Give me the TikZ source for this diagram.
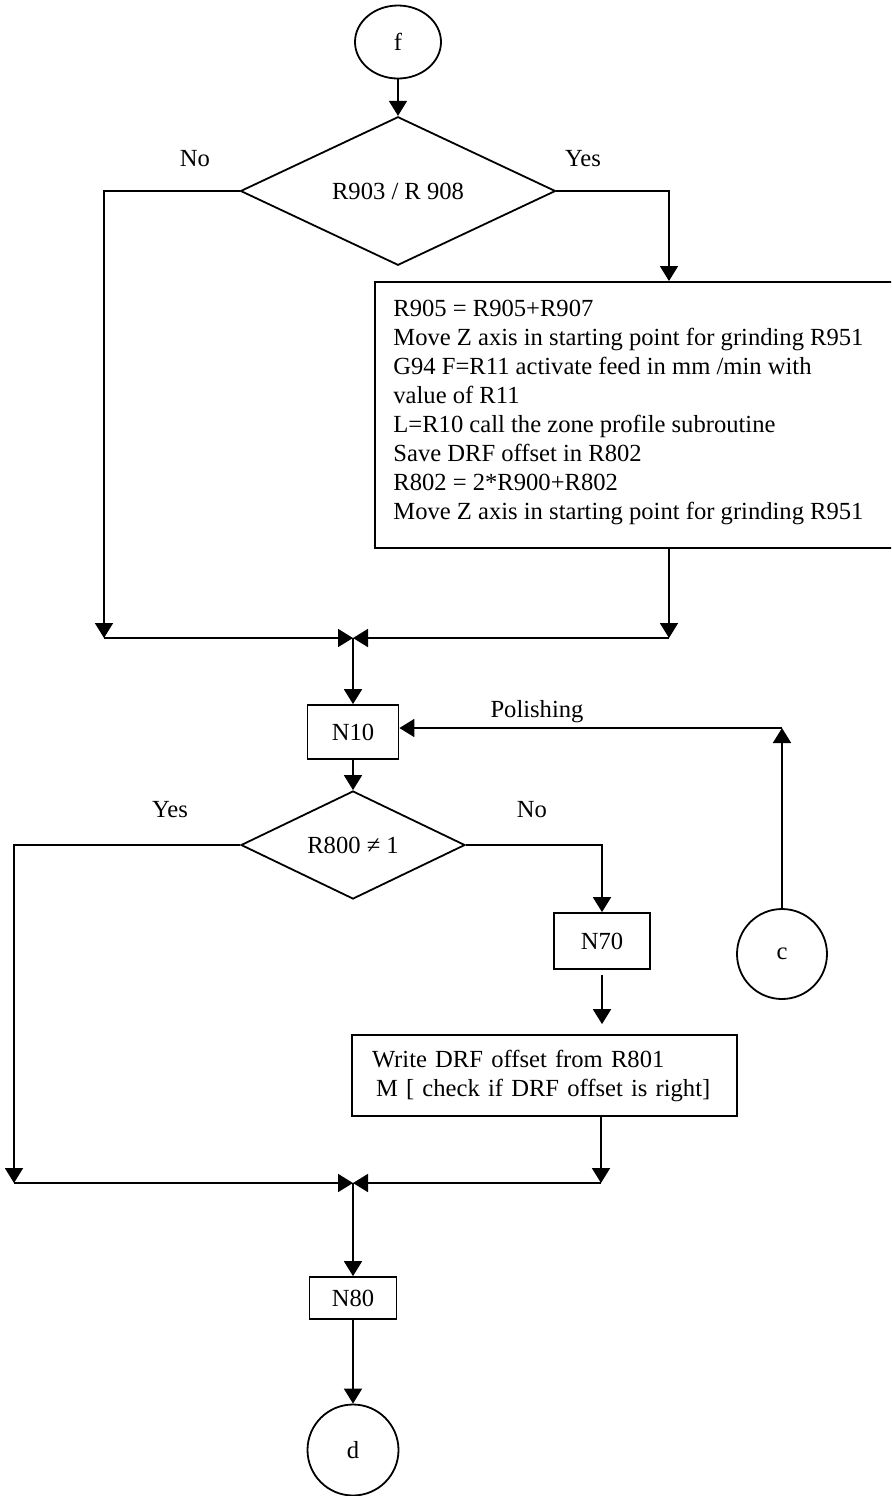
\documentclass[tikz,border=0pt]{standalone}
\usepackage{fontspec}
\setmainfont{Liberation Serif}
\usetikzlibrary{shapes.geometric,arrows.meta}
\begin{document}
\begin{tikzpicture}[x=0.5pt,y=-0.5pt,
  every node/.style={font=\fontsize{12.3pt}{14.5pt}\selectfont, text=black},
  line/.style={line width=0.9pt, draw=black},
  flow/.style={line, -{Triangle[length=7.5pt,width=9pt]}},
  box/.style={draw, line width=0.9pt, rectangle, inner sep=0pt, align=center},
  term/.style={draw, line width=0.9pt, ellipse, inner sep=0pt},
  conn/.style={draw, line width=0.9pt, circle, inner sep=0pt},
  decision/.style={draw, line width=0.9pt, diamond, inner sep=0pt},
  lbl/.style={inner sep=0pt}
]
\useasboundingbox (0,0) rectangle (891,1496);
\clip (0,0) rectangle (891,1496);

% entry and first test
\node[term, minimum width=43pt, minimum height=36.5pt] (f) at (398,42) {f};
\node[decision, minimum width=157.5pt, minimum height=45pt] (d1) at (398,191) {R903 / R 908};
\node[lbl] (no1) at (195,159) {No};
\node[lbl] (yes1) at (583,159) {Yes};

% grinding block (open on the right)
\node[box, anchor=north west, minimum width=263pt, minimum height=133pt] (big) at (374,281) {};
\node[lbl, anchor=north west, align=left] (bigtext) at (393,300) {R905 = R905+R907\\
Move Z axis in starting point for grinding R951\\
G94 F=R11 activate feed in mm /min with\\
value of R11\\
L=R10 call the zone profile subroutine\\
Save DRF offset in R802\\
R802 = 2*R900+R802\\
Move Z axis in starting point for grinding R951};

% first merge
\coordinate (jl1) at (104,638);
\coordinate (j1) at (353,638);
\coordinate (jr1) at (669,638);

% polishing loop and second test
\node[box, minimum width=45.5pt, minimum height=27pt] (n10) at (353,732) {N10};
\node[lbl] (pol) at (537,712) {Polishing};
\coordinate (cp) at (782,728);
\node[conn, minimum size=45pt] (c) at (782,954) {c};
\node[decision, minimum width=112pt, minimum height=45.5pt] (d2) at (353,845) {R800 ≠ 1};
\node[lbl] (yes2) at (170,810) {Yes};
\node[lbl] (no2) at (532,810) {No};

\node[box, minimum width=48pt, minimum height=28pt] (n70) at (602,941) {N70};
\node[box, minimum width=192.5pt, minimum height=40.5pt, text width=172.5pt, inner xsep=10pt, align=left] (w) at (544.5,1075.5) {Write DRF offset from R801\\\hspace*{2pt}M [ check if DRF offset is right]};

% second merge and exit
\coordinate (jl2) at (14,1183);
\coordinate (j2) at (353,1183);
\coordinate (jr2) at (601,1183);
\node[box, minimum width=43.5pt, minimum height=21pt] (n80) at (353,1298) {N80};
\node[conn, minimum size=45.5pt] (d) at (353,1450) {d};

% connectors
\draw[flow] (f) -- (d1);
\draw[flow] (d1.west) -| (jl1);
\draw[flow] (d1.east) -| (jr1 |- big.north);
\draw[flow] (jr1 |- big.south) -- (jr1);
\draw[flow] (jl1) -- (j1);
\draw[flow] (jr1) -- (j1);
\draw[flow] (j1) -- (n10);
\draw[flow] (n10) -- (d2);
\draw[flow] (c) -- (cp);
\draw[flow] (cp) -- (cp -| n10.east);
\draw[flow] (d2.west) -| (jl2);
\draw[flow] (d2.east) -| (n70.north);
\draw[flow, shorten <=2.5pt, shorten >=5pt] (n70.south) -- (n70.south |- w.north);
\draw[flow] (jr2 |- w.south) -- (jr2);
\draw[flow] (jl2) -- (j2);
\draw[flow] (jr2) -- (j2);
\draw[flow] (j2) -- (n80);
\draw[flow] (n80) -- (d);
\end{tikzpicture}
\end{document}
